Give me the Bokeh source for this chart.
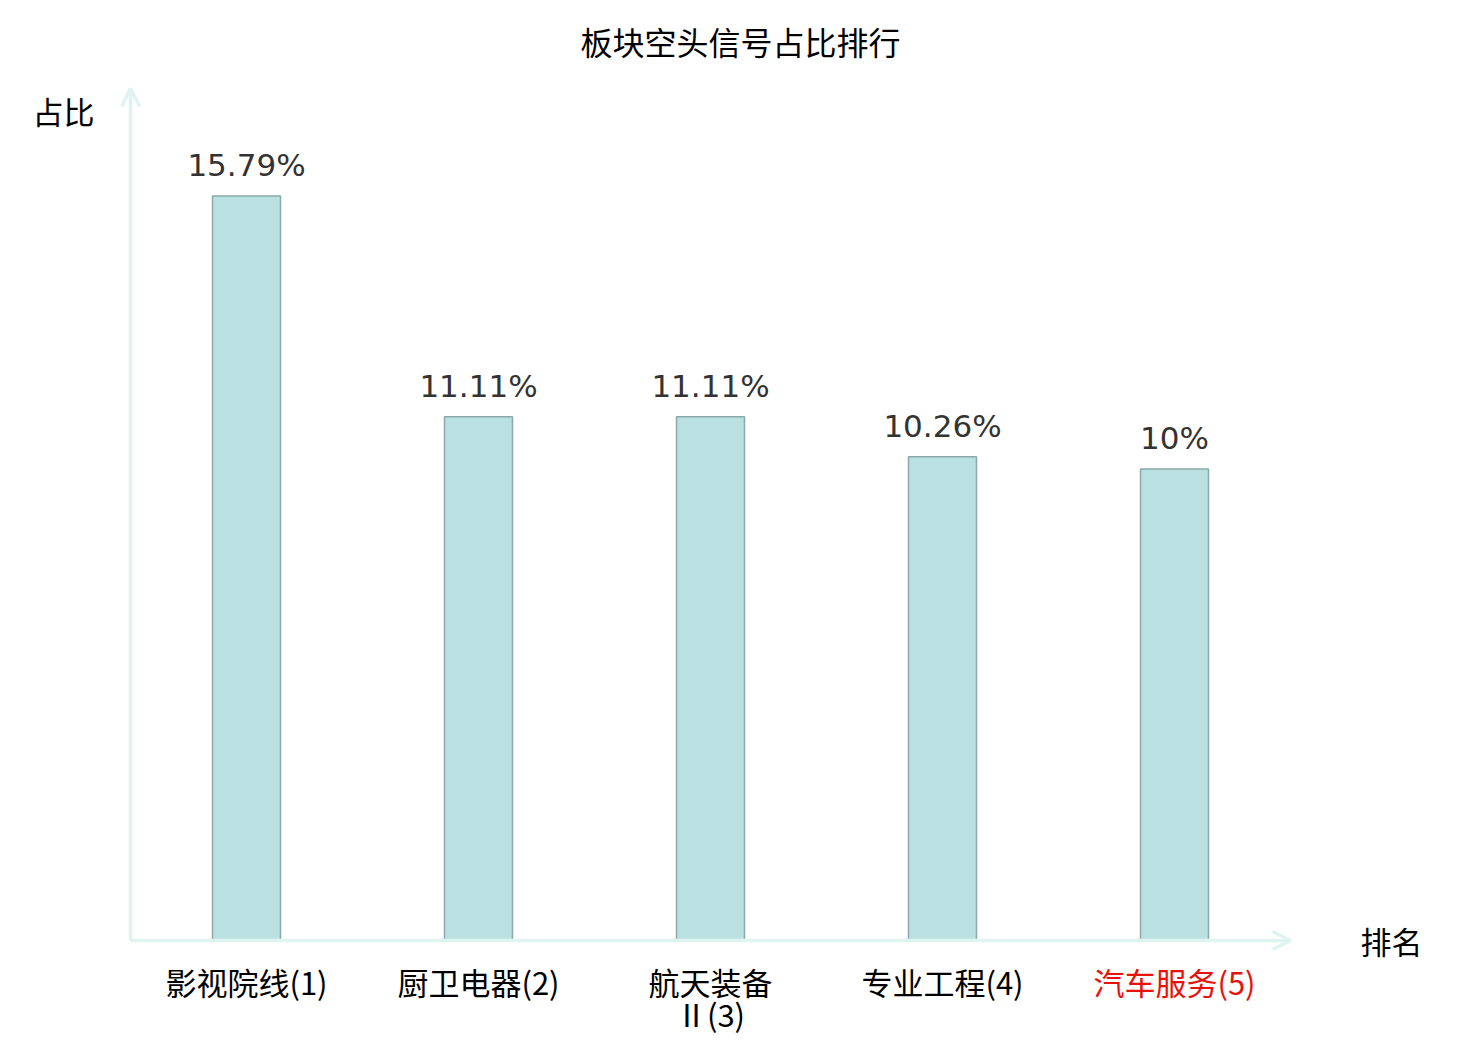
from bokeh.plotting import figure
from bokeh.models import Range1d, Arrow, OpenHead, ColumnDataSource
from bokeh.core.properties import value
from bokeh.embed import file_html
from bokeh.resources import INLINE

# ---- data ----
categories = ["影视院线(1)", "厨卫电器(2)", "航天装备\nⅡ(3)", "专业工程(4)", "汽车服务(5)"]
shares = [15.79, 11.11, 11.11, 10.26, 10.0]
share_labels = ["15.79%", "11.11%", "11.11%", "10.26%", "10%"]
label_colors = ["#000000", "#000000", "#000000", "#000000", "#e8120c"]
title_text = "板块空头信号占比排行"
y_title = "占比"
x_title = "排名"

CJK = "Noto Sans CJK SC"
W, H = 1480, 1040
Y_MAX = 18.07
N = len(categories)

# axis origin in canvas pixels and pixels per data unit
OX, OY = 130, 940
PX_X = 1160 / N
PX_Y = 852 / Y_MAX

p = figure(width=W, height=H, output_backend="svg", toolbar_location=None,
           x_range=Range1d(-OX / PX_X, (W - OX) / PX_X),
           y_range=Range1d(-(H - OY) / PX_Y, OY / PX_Y),
           x_axis_type=None, y_axis_type=None,
           min_border=0)
p.grid.visible = False
p.outline_line_color = None
p.background_fill_color = "white"
p.border_fill_color = "white"

xs = [i + 0.5 for i in range(N)]
src = ColumnDataSource(dict(x=xs, top=shares, lab=share_labels))

p.vbar(x="x", top="top", width=68 / PX_X, bottom=0, source=src,
       fill_color="#bbe0e2", line_color="#8aa9a9", line_width=1.5)

p.text(x="x", y="top", text="lab", source=src, text_align="center",
       text_baseline="middle", y_offset=-31,
       text_font=value("DejaVu Sans"), text_font_size="31px", text_color="#333333")

# axes with arrows
axis_col = "#dff3f0"
p.add_layout(Arrow(x_start=0, y_start=0, x_end=N, y_end=0,
                   line_color=axis_col, line_width=3.5,
                   end=OpenHead(size=18, line_color=axis_col, line_width=3.5)))
p.add_layout(Arrow(x_start=0, y_start=0, x_end=0, y_end=Y_MAX,
                   line_color=axis_col, line_width=3.5,
                   end=OpenHead(size=18, line_color=axis_col, line_width=3.5)))

# category labels below the axis
lx, ly, lt, lc = [], [], [], []
for xv, cat, col in zip(xs, categories, label_colors):
    for j, line in enumerate(cat.split("\n")):
        lx.append(xv)
        ly.append(-(41 + 32 * j) / PX_Y)
        lt.append(line)
        lc.append(col)
p.text(x=lx, y=ly, text=lt, text_color=lc, text_align="center", text_baseline="middle",
       text_font=value(CJK), text_font_size="31px")

# axis names
p.text(x=[-67 / PX_X], y=[830 / PX_Y], text=[y_title], text_align="center",
       text_baseline="middle", text_font=value(CJK), text_font_size="31px",
       text_color="#000000")
p.text(x=[N + 101 / PX_X], y=[0], text=[x_title], text_align="center",
       text_baseline="middle", text_font=value(CJK), text_font_size="31px",
       text_color="#000000")

# title
p.text(x=[610 / PX_X], y=[900 / PX_Y], text=[title_text], text_align="center",
       text_baseline="middle", text_font=value(CJK), text_font_size="32px",
       text_color="#000000")

open("out.html", "w").write(file_html(p, INLINE))
